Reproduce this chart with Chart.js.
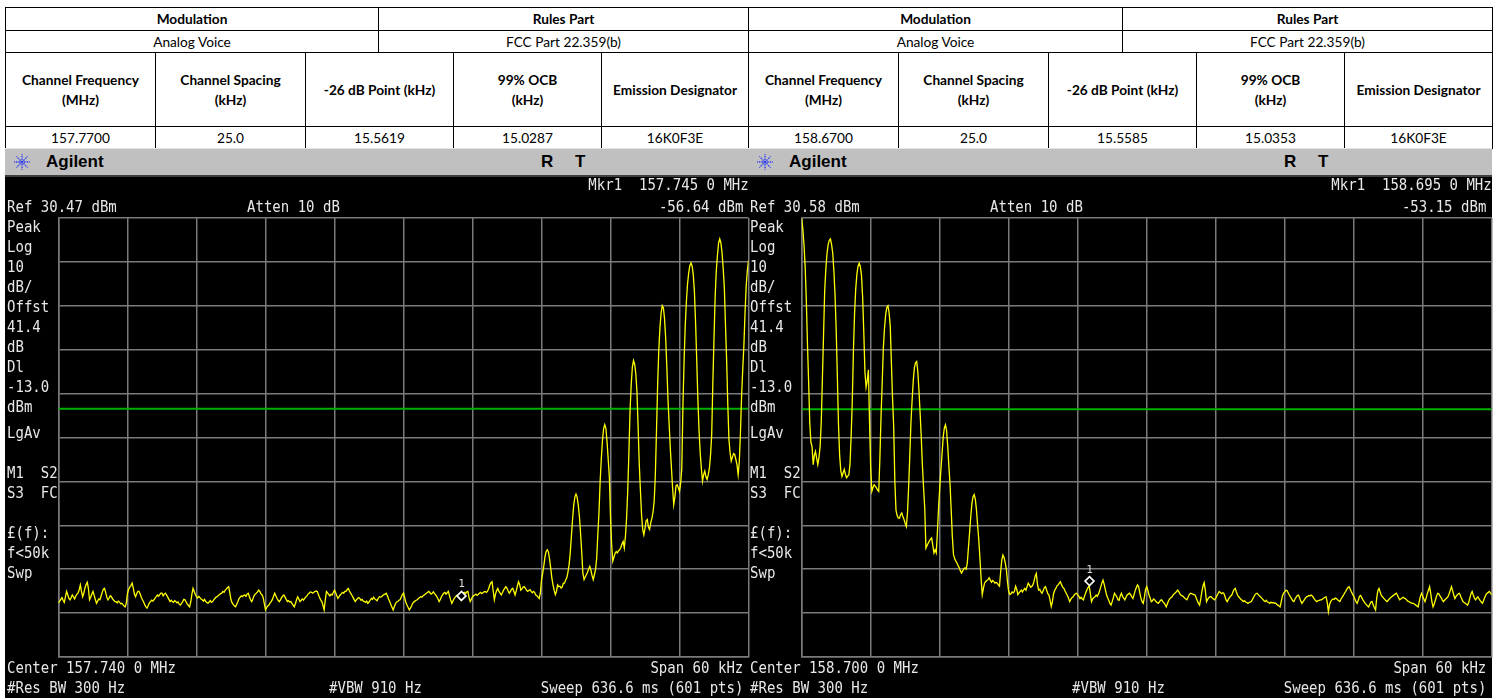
<!DOCTYPE html>
<html><head><meta charset="utf-8">
<script src="https://cdn.jsdelivr.net/npm/chart.js@4.4.1/dist/chart.umd.min.js"></script>
<style>
html,body{margin:0;padding:0;background:#fff;width:1503px;height:698px;overflow:hidden;position:relative}
.cell{position:absolute;box-sizing:border-box;border:1px solid #000;display:flex;align-items:center;justify-content:center;text-align:center;font-family:Lato,'Open Sans',sans-serif;font-size:13.7px;color:#000;line-height:20px;background:#fff}
.b{font-weight:bold}
.bar{position:absolute;top:148px;height:29px;background:#c0c0c0;box-sizing:border-box;border-top:1px solid #e4e4e4;border-bottom:2px solid #404040}
.ag{position:absolute;top:150px;font-family:'Liberation Sans Narrow','Liberation Sans',Arial,sans-serif;font-weight:bold;font-size:17px;line-height:24px;color:#000}
.rt{position:absolute;top:150px;font-family:'Liberation Sans',Arial,sans-serif;font-weight:bold;font-size:17px;line-height:24px;color:#000}
.scr{position:absolute;top:176px;height:522px;background:#000}
.m{position:absolute;font-family:'DejaVu Sans Mono',monospace;font-size:16.5px;line-height:20px;color:#e8e8e8;white-space:pre;transform:scaleX(0.85);transform-origin:0 0}
.mr{transform-origin:100% 0}
canvas{position:absolute}
svg{position:absolute}
</style>
</head>
<body>
<div class="scr" style="left:5px;width:743px"></div>
<div class="scr" style="left:748px;width:744px"></div>
<canvas id="cl" width="745" height="522" style="left:5px;top:176px"></canvas>
<canvas id="cr" width="745" height="522" style="left:748px;top:176px"></canvas>
<div id="ov"></div>
<script>
// ---------- data ----------
const tableTopHeaders = ['Modulation', 'Rules Part'];
const tableTopValues = ['Analog Voice', 'FCC Part 22.359(b)'];
const columnHeaders = ['Channel Frequency<br>(MHz)', 'Channel Spacing<br>(kHz)', '-26 dB Point (kHz)', '99% OCB<br>(kHz)', 'Emission Designator'];
const leftRowValues = ['157.7700', '25.0', '15.5619', '15.0287', '16K0F3E'];
const rightRowValues = ['158.6700', '25.0', '15.5585', '15.0353', '16K0F3E'];

const leftCenterMHz = 157.740;
const rightCenterMHz = 158.700;
const spanKHz = 60;
const leftRefDbm = 30.47;
const rightRefDbm = 30.58;
const dbPerDiv = 10;
const displayLineDbm = -13.0;
const leftMarker = {freqMHz: 157.745, levelDbm: -56.64};
const rightMarker = {freqMHz: 158.695, levelDbm: -53.15};

// trace levels (dBm), 601 sweep points each, 0.1 kHz apart
const leftLevels = [
-57.3,-56.8,-56.4,-56.0,-56.6,-57.1,-55.9,-54.6,-55.3,-56.2,
-56.5,-56.0,-55.4,-55.8,-56.3,-55.7,-55.2,-55.0,-54.2,-53.1,
-54.6,-55.8,-55.0,-53.8,-53.0,-52.5,-53.9,-56.5,-55.9,-55.2,
-54.6,-55.5,-56.4,-57.3,-56.8,-56.3,-56.5,-55.7,-54.8,-54.1,
-53.9,-54.8,-55.9,-56.5,-56.1,-55.6,-55.8,-56.3,-56.6,-56.9,
-56.9,-57.2,-56.8,-57.0,-57.4,-57.3,-57.6,-57.9,-58.1,-57.2,
-55.0,-54.1,-53.6,-53.2,-52.7,-53.8,-55.2,-55.8,-55.1,-54.6,
-54.6,-55.2,-55.9,-56.5,-57.0,-57.6,-58.1,-58.4,-57.8,-57.2,
-56.9,-56.6,-56.8,-56.5,-56.1,-55.8,-55.4,-55.7,-55.3,-55.0,
-55.0,-55.6,-55.2,-55.0,-55.4,-55.9,-56.4,-56.9,-56.6,-56.9,
-57.1,-56.7,-56.9,-57.2,-57.0,-57.5,-57.7,-57.3,-56.9,-56.4,
-56.5,-57.0,-57.5,-57.8,-58.1,-57.0,-55.2,-53.9,-54.6,-55.3,
-55.8,-56.1,-55.7,-56.0,-56.3,-56.5,-56.8,-56.4,-56.9,-57.1,
-57.3,-57.0,-56.7,-57.1,-56.9,-56.5,-56.2,-55.9,-55.8,-55.5,
-55.3,-55.1,-55.0,-54.6,-54.8,-54.3,-54.0,-53.7,-53.5,-55.0,
-56.5,-57.2,-57.6,-57.9,-58.1,-57.5,-56.9,-56.2,-55.9,-55.6,
-55.8,-55.5,-55.4,-55.7,-55.2,-55.0,-55.8,-56.5,-56.9,-56.3,
-55.6,-55.2,-55.0,-54.7,-54.3,-54.6,-55.1,-55.4,-56.0,-57.4,
-58.8,-58.3,-57.9,-57.7,-57.2,-56.9,-56.4,-55.7,-55.0,-55.6,
-56.2,-56.6,-56.9,-56.5,-56.0,-55.6,-55.4,-55.9,-56.4,-56.9,
-56.7,-57.0,-56.9,-57.3,-57.7,-58.1,-57.4,-56.5,-55.8,-56.3,
-56.9,-56.6,-56.3,-56.6,-56.2,-55.9,-55.6,-55.2,-55.0,-54.7,
-54.8,-55.0,-54.8,-54.6,-54.5,-54.6,-55.3,-56.0,-56.5,-56.9,
-57.8,-58.8,-56.5,-54.6,-54.9,-55.3,-55.6,-55.2,-55.4,-54.8,
-54.3,-54.9,-55.6,-56.2,-55.8,-55.4,-55.1,-54.8,-55.0,-54.6,
-54.6,-54.2,-53.9,-54.5,-55.0,-55.4,-55.9,-56.4,-56.9,-56.5,
-56.2,-56.0,-56.2,-56.6,-56.4,-56.8,-56.9,-57.1,-56.8,-57.3,
-57.0,-56.6,-56.2,-56.4,-55.9,-56.3,-56.5,-56.7,-56.2,-55.8,
-55.9,-55.8,-55.5,-55.3,-55.2,-55.0,-55.6,-56.3,-56.9,-57.6,
-58.2,-58.8,-58.1,-57.4,-57.0,-56.9,-56.6,-56.5,-55.9,-55.3,
-55.0,-56.0,-57.0,-57.7,-58.2,-58.8,-58.4,-57.9,-57.3,-57.0,
-56.8,-56.6,-56.5,-56.2,-56.0,-55.8,-55.9,-55.6,-55.4,-55.2,
-55.0,-54.8,-54.6,-54.9,-55.2,-55.0,-54.7,-55.1,-55.4,-55.8,
-56.3,-56.9,-56.4,-55.8,-55.4,-55.0,-54.8,-55.2,-54.9,-54.6,
-55.6,-56.5,-57.3,-56.8,-56.2,-55.9,-55.6,-55.4,-55.9,-56.3,
-56.6,-55.7,-55.0,-54.8,-55.1,-54.7,-54.6,-56.0,-56.9,-56.4,
-55.8,-55.6,-55.4,-55.2,-55.5,-55.3,-55.0,-54.8,-55.1,-54.9,
-54.7,-54.6,-54.8,-54.6,-54.0,-53.2,-52.6,-52.4,-54.5,-56.5,
-55.2,-54.4,-53.9,-54.6,-55.0,-55.4,-54.9,-54.3,-53.9,-53.5,
-53.9,-54.5,-55.0,-54.6,-54.1,-53.9,-54.6,-55.4,-54.5,-53.4,
-52.4,-53.0,-54.3,-54.0,-53.6,-53.5,-53.9,-54.3,-54.6,-54.4,
-54.2,-54.6,-54.9,-54.6,-54.8,-55.4,-55.6,-55.9,-56.2,-55.0,
-52.0,-50.5,-48.8,-46.8,-45.5,-45.1,-45.6,-47.2,-49.3,-51.5,
-53.1,-54.3,-55.3,-54.6,-53.1,-53.5,-53.4,-53.8,-53.6,-52.7,
-52.7,-52.0,-51.5,-50.2,-48.5,-45.8,-42.0,-38.2,-35.0,-33.1,
-32.4,-33.1,-35.0,-37.6,-41.5,-45.8,-50.5,-51.9,-51.3,-50.8,
-50.2,-49.5,-48.9,-49.8,-51.0,-51.9,-50.8,-49.6,-47.0,-41.5,
-36.5,-29.5,-24.5,-20.2,-17.5,-16.6,-17.5,-20.5,-24.5,-28.5,
-37.5,-44.0,-47.7,-46.8,-45.9,-45.5,-45.8,-45.3,-45.1,-44.6,
-43.8,-43.2,-44.7,-42.0,-37.9,-31.5,-23.0,-13.5,-7.5,-3.5,
-2.0,-2.8,-5.0,-9.0,-17.0,-25.5,-31.5,-37.1,-40.5,-41.7,
-40.2,-38.5,-38.2,-40.0,-40.5,-39.0,-37.9,-36.5,-34.0,-28.0,
-18.0,-7.5,0.5,5.5,8.8,10.5,10.0,7.5,3.0,-3.5,
-11.0,-16.5,-22.0,-26.5,-31.0,-34.8,-33.0,-30.5,-30.3,-31.0,
-31.8,-30.0,-26.5,-12.0,-2.0,6.0,11.5,15.5,18.0,19.6,
20.2,19.5,17.5,13.5,6.5,-2.0,-11.0,-18.0,-23.0,-26.5,
-29.5,-28.0,-27.2,-28.5,-29.1,-28.0,-26.5,-23.5,-18.9,-7.0,
3.0,12.5,18.5,22.0,24.8,25.7,24.8,22.5,19.0,14.5,
6.0,-2.0,-12.0,-20.0,-23.0,-24.9,-24.0,-23.2,-23.4,-24.5,
-25.7,-28.0,-25.0,-18.5,-10.0,-4.0,1.5,9.0,15.0,18.5,
20.8
];
const rightLevels = [
30.5,28.0,24.5,19.5,12.0,2.0,-6.5,-16.0,-20.5,-21.5,
-25.6,-23.5,-22.6,-24.1,-25.6,-24.0,-21.5,-16.0,-6.0,4.0,
14.0,19.0,22.5,24.5,25.5,25.8,24.5,22.5,18.5,13.0,
5.0,-5.5,-16.5,-23.5,-27.0,-28.3,-27.5,-26.7,-27.8,-28.6,
-28.2,-27.9,-25.5,-19.0,-11.0,0.5,9.0,14.5,17.8,19.6,
20.3,19.5,17.5,12.5,4.5,-4.5,-8.0,-6.5,-4.0,-16.0,
-26.4,-31.7,-30.8,-30.2,-30.5,-30.9,-31.4,-31.7,-24.0,-14.5,
-7.0,1.0,5.5,8.5,10.2,10.6,9.0,6.0,-2.5,-10.5,
-17.0,-29.5,-36.0,-37.2,-37.8,-37.8,-37.0,-36.6,-37.5,-38.1,
-39.0,-39.7,-36.5,-30.5,-23.5,-16.0,-11.0,-6.5,-3.5,-2.4,
-2.1,-4.5,-8.9,-14.0,-19.5,-26.0,-31.0,-35.5,-44.6,-44.0,
-43.5,-43.0,-42.6,-42.3,-44.0,-45.7,-45.0,-45.7,-41.0,-35.5,
-31.0,-27.0,-23.3,-19.5,-17.3,-16.5,-17.8,-21.5,-26.0,-30.2,
-36.0,-42.0,-46.1,-47.0,-47.6,-48.0,-48.6,-49.1,-49.8,-50.3,
-49.8,-49.3,-49.1,-49.4,-48.0,-44.5,-41.0,-37.5,-34.5,-32.9,
-32.4,-33.5,-36.0,-39.5,-42.8,-47.0,-51.5,-55.2,-53.8,-52.6,
-52.2,-52.0,-51.8,-51.4,-51.9,-52.4,-52.0,-52.2,-52.6,-52.4,
-52.6,-53.0,-53.3,-50.0,-47.3,-46.2,-46.8,-48.0,-49.5,-52.5,
-54.5,-55.2,-55.0,-54.6,-54.8,-54.5,-53.3,-54.0,-55.2,-54.8,
-54.5,-54.2,-54.6,-54.1,-53.8,-54.2,-53.4,-52.6,-53.0,-53.5,
-53.4,-53.0,-52.2,-51.0,-50.4,-52.8,-54.2,-54.0,-54.6,-54.9,
-54.3,-53.6,-53.4,-54.2,-55.0,-55.3,-56.5,-57.9,-56.8,-55.0,
-54.2,-53.8,-53.2,-53.0,-52.6,-52.3,-53.0,-53.5,-53.8,-54.4,
-54.9,-55.4,-56.0,-56.8,-56.3,-55.9,-55.7,-55.3,-55.0,-54.9,
-55.2,-55.6,-56.1,-55.8,-56.2,-56.4,-55.5,-54.8,-54.1,-53.6,
-53.2,-55.0,-56.8,-56.2,-55.9,-55.7,-55.3,-55.6,-55.1,-54.4,
-53.5,-52.6,-51.9,-52.8,-54.0,-55.2,-55.9,-56.5,-57.2,-57.6,
-56.8,-55.9,-54.9,-55.3,-55.7,-56.4,-56.5,-55.5,-54.9,-55.6,
-56.0,-56.4,-55.8,-55.3,-55.1,-54.9,-55.2,-55.7,-56.1,-55.2,
-54.3,-53.6,-53.0,-53.4,-54.8,-56.0,-56.8,-57.2,-55.8,-54.0,
-53.4,-54.2,-55.3,-56.0,-56.8,-56.6,-56.2,-56.4,-56.8,-57.0,
-57.2,-56.9,-56.5,-56.4,-56.8,-57.1,-57.5,-58.0,-57.3,-56.6,
-56.2,-55.9,-55.7,-55.3,-55.0,-54.8,-54.5,-54.2,-54.6,-55.1,
-55.4,-55.5,-55.7,-56.0,-56.2,-56.4,-55.8,-55.2,-54.9,-55.0,
-55.1,-55.2,-55.3,-55.9,-56.6,-57.2,-57.6,-56.2,-54.5,-53.2,
-52.5,-54.3,-56.8,-56.3,-55.9,-55.7,-55.7,-56.0,-56.2,-56.4,
-56.0,-55.5,-55.0,-54.5,-54.7,-55.0,-54.8,-54.9,-55.6,-56.4,
-56.8,-56.3,-55.9,-55.5,-55.3,-54.6,-54.0,-53.8,-54.6,-55.3,
-55.7,-56.0,-56.3,-56.5,-56.8,-56.6,-56.9,-57.0,-57.2,-57.0,
-56.9,-56.8,-56.3,-55.8,-55.3,-55.0,-54.9,-55.2,-55.5,-55.7,
-56.0,-56.3,-56.6,-56.8,-56.5,-56.9,-57.0,-57.2,-56.9,-57.1,
-57.0,-57.2,-57.1,-57.4,-57.6,-57.8,-58.0,-56.8,-55.5,-54.9,
-54.6,-54.2,-54.3,-54.8,-55.3,-55.7,-56.2,-56.6,-56.8,-56.2,
-55.8,-55.4,-55.3,-56.0,-56.7,-57.2,-56.8,-56.4,-56.0,-55.7,
-55.6,-55.4,-55.5,-55.3,-55.5,-55.9,-56.3,-56.6,-56.8,-56.6,
-56.5,-56.4,-56.4,-56.2,-56.0,-55.8,-55.7,-57.0,-59.1,-57.5,
-56.8,-56.4,-56.2,-56.3,-56.0,-56.1,-56.4,-56.6,-56.8,-56.2,
-55.8,-55.4,-54.9,-54.5,-54.0,-53.6,-53.4,-54.0,-54.6,-55.1,
-55.6,-56.2,-56.8,-57.2,-56.5,-55.6,-55.4,-55.9,-56.4,-56.8,
-57.2,-57.5,-57.8,-58.0,-57.4,-56.9,-56.8,-57.6,-58.2,-58.7,
-56.0,-54.3,-53.8,-54.6,-55.4,-55.7,-56.0,-56.3,-56.6,-56.8,
-56.5,-56.2,-55.9,-55.7,-55.5,-55.3,-55.1,-54.9,-55.3,-55.9,
-56.4,-56.2,-56.0,-55.8,-56.0,-56.1,-56.4,-56.7,-56.8,-57.0,
-57.1,-57.2,-57.2,-57.4,-57.6,-57.8,-58.0,-56.8,-55.6,-54.9,
-55.6,-56.2,-56.8,-56.0,-55.0,-54.2,-53.4,-55.0,-56.8,-58.0,
-57.4,-56.5,-55.6,-54.9,-55.0,-55.5,-55.9,-56.4,-56.8,-56.5,
-56.2,-56.0,-55.7,-55.0,-54.2,-53.4,-54.3,-55.3,-56.1,-55.6,
-55.3,-55.0,-54.9,-55.6,-56.2,-56.8,-57.0,-57.2,-57.4,-57.6,
-57.0,-56.0,-55.0,-54.5,-55.3,-56.0,-56.4,-56.0,-55.7,-56.2,
-56.6,-56.9,-57.2,-56.5,-55.8,-55.2,-54.9,-54.7,-54.5,-54.9,
-55.3
];

// ---------- layout (page) ----------
const ov = document.getElementById('ov');
function add(html) { ov.insertAdjacentHTML('beforeend', html); }
function cell(x1, x2, y1, y2, txt, bold) {
  add(`<div class="cell${bold ? ' b' : ''}" style="left:${x1}px;top:${y1}px;width:${x2 - x1 + 1}px;height:${y2 - y1 + 1}px"><div>${txt}</div></div>`);
}
function table(topCols, cols, rowVals) {
  const ry = [7, 30, 52, 126, 148];
  for (let i = 0; i < 2; i++) {
    cell(topCols[i], topCols[i + 1], ry[0], ry[1], tableTopHeaders[i], true);
    cell(topCols[i], topCols[i + 1], ry[1], ry[2], tableTopValues[i], false);
  }
  for (let i = 0; i < 5; i++) {
    cell(cols[i], cols[i + 1], ry[2], ry[3], columnHeaders[i], true);
    cell(cols[i], cols[i + 1], ry[3], ry[4], rowVals[i], false);
  }
}
table([5, 378, 748], [5, 155, 305, 453, 601, 748], leftRowValues);
table([748, 1122, 1492], [748, 898, 1048, 1196, 1344, 1492], rightRowValues);

function starIcon(cx, cy) {
  let s = `<svg width="20" height="20" style="left:${cx - 10}px;top:${cy - 10}px" viewBox="-10 -10 20 20">`;
  for (let k = 0; k < 8; k++) {
    const a = k * Math.PI / 4;
    s += `<line x1="${(2 * Math.cos(a)).toFixed(2)}" y1="${(2 * Math.sin(a)).toFixed(2)}" x2="${(8 * Math.cos(a)).toFixed(2)}" y2="${(8 * Math.sin(a)).toFixed(2)}" stroke="#2f3cf0" stroke-width="1.3" stroke-dasharray="1.6 1"/>`;
  }
  s += `<circle r="1.6" fill="#2f3cf0"/></svg>`;
  add(s);
}
function header(x0, w) {
  add(`<div class="bar" style="left:${x0}px;width:${w}px"></div>`);
  starIcon(x0 + 17, 162);
  add(`<div class="ag" style="left:${x0 + 41}px">Agilent</div>`);
  add(`<div class="rt" style="left:${x0 + 536}px">R</div>`);
  add(`<div class="rt" style="left:${x0 + 570}px">T</div>`);
}
header(5, 743);
header(748, 744);

function screenTexts(x0, mkrText, refText, mkrLevelText, centerText) {
  const L = (t, dx, cy) => add(`<div class="m" style="left:${x0 + dx}px;top:${cy - 10}px">${t}</div>`);
  const R = (t, dxEnd, cy) => add(`<div class="m mr" style="right:${1503 - (x0 + dxEnd)}px;top:${cy - 10}px">${t}</div>`);
  R(mkrText, 743.3, 185);
  L(refText, 1.5, 207);
  L('Atten 10 dB', 241.5, 207);
  R(mkrLevelText, 738, 207);
  const side = [['Peak', 227], ['Log', 247], ['10', 267], ['dB/', 287], ['Offst', 307], ['41.4', 327], ['dB', 347],
    ['Dl', 367], ['-13.0', 387], ['dBm', 407], ['LgAv', 433], ['M1  S2', 473], ['S3  FC', 493],
    ['£(f):', 533], ['f&lt;50k', 553], ['Swp', 573]];
  side.forEach(([t, cy]) => L(t, 1.5, cy));
  L(centerText, 1.5, 668);
  L('#Res BW 300 Hz', 1.5, 688);
  L('#VBW 910 Hz', 323.5, 688);
  R('Span 60 kHz', 738.3, 668);
  R('Sweep 636.6 ms (601 pts)', 738.3, 688);
}
screenTexts(5, 'Mkr1  157.745 0 MHz', 'Ref 30.47 dBm', '-56.64 dBm', 'Center 157.740 0 MHz');
screenTexts(748, 'Mkr1  158.695 0 MHz', 'Ref 30.58 dBm', '-53.15 dBm', 'Center 158.700 0 MHz');

// ---------- charts ----------
const gridColor = '#7a7a7a';
const markerPlugin = {
  id: 'mkrDiamond',
  afterDatasetsDraw(chart) {
    const meta = chart.getDatasetMeta(2);
    const pt = meta.data[0];
    if (!pt) return;
    const ctx = chart.ctx;
    const x = Math.round(pt.x) + 0.5, y = pt.y;
    const h = 4.5;
    ctx.save();
    ctx.fillStyle = '#000';
    ctx.strokeStyle = '#ffffff';
    ctx.lineWidth = 1.6;
    ctx.beginPath();
    ctx.moveTo(x, y); ctx.lineTo(x + h, y - h); ctx.lineTo(x, y - 2 * h); ctx.lineTo(x - h, y - h); ctx.closePath();
    ctx.fill(); ctx.stroke();
    ctx.fillStyle = '#d8d8d8';
    ctx.font = '11px "DejaVu Sans Mono"';
    ctx.textAlign = 'center';
    ctx.fillText('1', x, y - 2 * h - 4);
    ctx.restore();
  }
};

function makeChart(id, centerMHz, refDbm, levels, marker, padLeft, padRight) {
  const startMHz = centerMHz - spanKHz / 2000;
  const stopMHz = centerMHz + spanKHz / 2000;
  const stepMHz = (stopMHz - startMHz) / (levels.length - 1);
  const trace = levels.map((v, i) => ({x: startMHz + i * stepMHz, y: v}));
  const bottomDbm = refDbm - 10 * dbPerDiv;
  new Chart(document.getElementById(id), {
    type: 'line',
    data: {
      datasets: [
        {data: [{x: startMHz, y: displayLineDbm}, {x: stopMHz, y: displayLineDbm}], borderColor: '#00b000', borderWidth: 2, pointRadius: 0, order: 2},
        {data: trace, borderColor: '#ffff00', borderWidth: 1.3, pointRadius: 0, tension: 0, order: 1},
        {data: [{x: marker.freqMHz, y: marker.levelDbm}], pointRadius: 0, showLine: false, borderColor: 'transparent'}
      ]
    },
    options: {
      responsive: false, animation: false, devicePixelRatio: 1,
      layout: {padding: {left: padLeft, right: padRight, top: 42, bottom: 41}},
      plugins: {legend: {display: false}, tooltip: {enabled: false}},
      scales: {
        x: {
          type: 'linear', min: startMHz, max: stopMHz,
          ticks: {display: false, padding: 0},
          grid: {color: gridColor, lineWidth: 1.5, drawTicks: false},
          border: {display: true, color: gridColor, width: 1.5},
          afterBuildTicks: s => { s.ticks = Array.from({length: 11}, (_, k) => ({value: startMHz + k * (stopMHz - startMHz) / 10})); }
        },
        y: {
          type: 'linear', min: bottomDbm, max: refDbm,
          ticks: {display: false, padding: 0},
          grid: {color: gridColor, lineWidth: 1.5, drawTicks: false},
          border: {display: true, color: gridColor, width: 1.5},
          afterBuildTicks: s => { s.ticks = Array.from({length: 11}, (_, k) => ({value: refDbm - k * dbPerDiv})); }
        }
      }
    },
    plugins: [markerPlugin]
  });
}
makeChart('cl', leftCenterMHz, leftRefDbm, leftLevels, leftMarker, 53.5, 1.5);
makeChart('cr', rightCenterMHz, rightRefDbm, rightLevels, rightMarker, 53.7, 1.3);
</script>
</body></html>
